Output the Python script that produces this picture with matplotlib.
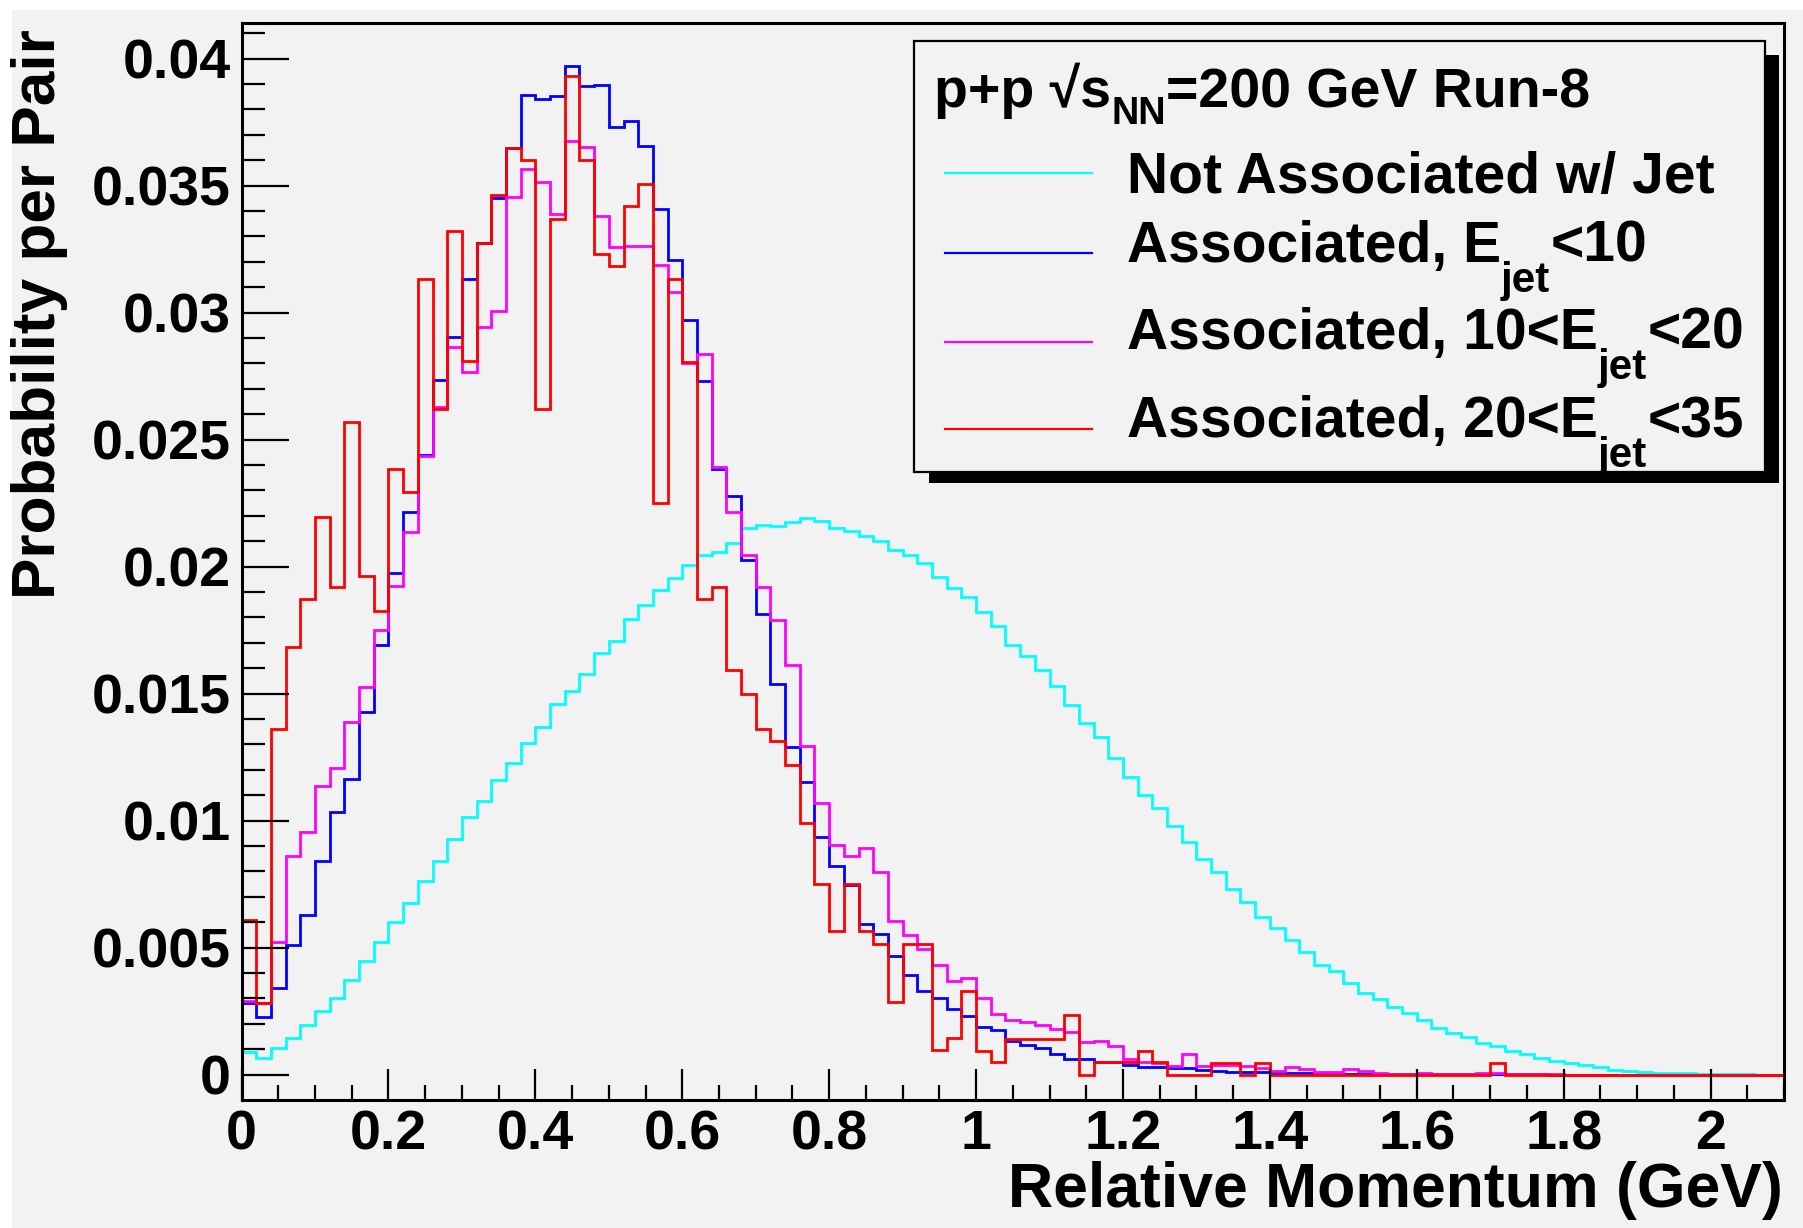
import numpy as np
import matplotlib
matplotlib.use("Agg")
import matplotlib.pyplot as plt
from matplotlib.ticker import MultipleLocator, FuncFormatter
from matplotlib.patches import Rectangle
from matplotlib.lines import Line2D

# ---------------- data (probability per pair, in units of 1e-3) ----------------
bin_width = 0.02
n_bins = 105  # 0 .. 2.1 GeV

not_assoc = [0.88, 0.66, 1.04, 1.46, 1.94, 2.51, 3.01, 3.74, 4.49, 5.22,
             6.01, 6.77, 7.61, 8.39, 9.27, 10.14, 10.79, 11.58, 12.26, 13.05,
             13.68, 14.60, 15.12, 15.78, 16.60, 17.07, 17.92, 18.48, 19.08, 19.54,
             20.06, 20.47, 20.58, 20.91, 21.52, 21.65, 21.59, 21.77, 21.92, 21.80,
             21.53, 21.40, 21.22, 20.99, 20.64, 20.47, 20.14, 19.58, 19.15, 18.81,
             18.21, 17.67, 16.91, 16.47, 15.92, 15.31, 14.54, 13.86, 13.31, 12.47,
             11.72, 11.00, 10.51, 9.79, 9.16, 8.50, 7.99, 7.30, 6.80, 6.20,
             5.78, 5.29, 4.83, 4.30, 4.06, 3.60, 3.23, 2.96, 2.68, 2.41,
             2.14, 1.82, 1.63, 1.47, 1.26, 1.13, 0.93, 0.80, 0.67, 0.54,
             0.45, 0.37, 0.29, 0.18, 0.14, 0.10, 0.08, 0.05, 0.05, 0.03,
             0.02, 0.01, 0.01, 0.0, 0.0]

assoc_lt10 = [2.80, 2.27, 3.40, 5.12, 6.30, 8.42, 10.34, 11.65, 14.29, 16.92,
              19.73, 22.16, 24.41, 27.34, 29.04, 31.31, 32.74, 34.50, 36.47, 38.55,
              38.41, 38.52, 39.70, 38.92, 38.96, 37.30, 37.53, 36.54, 34.08, 32.08,
              29.72, 27.31, 23.83, 22.79, 20.25, 18.15, 15.37, 12.88, 11.52, 9.35,
              8.21, 7.47, 5.94, 5.54, 4.66, 3.91, 3.28, 3.02, 2.58, 2.30,
              1.86, 1.74, 1.34, 1.17, 1.03, 0.80, 0.60, 0.60, 0.51, 0.51,
              0.38, 0.30, 0.30, 0.25, 0.25, 0.18, 0.16, 0.10, 0.10, 0.10,
              0.06, 0.05, 0.05, 0.04, 0.04, 0.03, 0.03, 0.02, 0.02, 0.02,
              0.01, 0.01, 0.01, 0.01, 0.01, 0.01, 0.01, 0.03, 0.01, 0.0,
              0.0, 0.0, 0.0, 0.0, 0.0, 0.0, 0.0, 0.0, 0.0, 0.0,
              0.0, 0.0, 0.0, 0.0, 0.0]

assoc_10_20 = [2.90, 2.80, 5.22, 8.59, 9.55, 11.35, 12.07, 13.87, 15.27, 17.51,
               19.25, 21.35, 24.34, 26.27, 28.63, 27.68, 29.45, 30.08, 34.54, 35.64,
               35.15, 33.88, 36.75, 36.51, 33.80, 32.58, 32.62, 32.62, 31.89, 30.81,
               28.02, 28.37, 23.92, 22.14, 20.46, 19.20, 17.88, 16.14, 12.94, 10.69,
               9.03, 8.61, 8.94, 7.99, 6.06, 5.50, 4.95, 4.31, 3.67, 3.80,
               3.01, 2.38, 2.15, 2.08, 1.96, 1.80, 1.66, 1.29, 1.34, 1.13,
               0.62, 0.51, 0.45, 0.32, 0.82, 0.32, 0.38, 0.38, 0.34, 0.25,
               0.15, 0.29, 0.23, 0.12, 0.12, 0.23, 0.13, 0.08, 0.03, 0.03,
               0.08, 0.03, 0.02, 0.03, 0.08, 0.05, 0.03, 0.01, 0.01, 0.01,
               0.0, 0.0, 0.0, 0.0, 0.0, 0.0, 0.0, 0.0, 0.0, 0.0,
               0.0, 0.0, 0.0, 0.0, 0.0]

assoc_20_35 = [6.09, 2.81, 13.59, 16.82, 18.72, 21.97, 19.19, 25.70, 19.63, 18.25,
               23.85, 22.94, 31.31, 26.20, 33.21, 28.10, 32.74, 34.61, 36.47, 36.02,
               26.20, 33.68, 39.33, 36.02, 32.29, 31.83, 34.19, 35.07, 22.49, 31.32,
               28.05, 18.72, 19.19, 15.92, 14.98, 13.62, 13.15, 12.18, 9.89, 7.51,
               5.65, 7.51, 5.65, 5.14, 2.85, 5.14, 5.14, 0.95, 1.44, 3.28,
               0.94, 0.49, 1.41, 1.41, 1.41, 1.41, 2.34, 0.0, 0.49, 0.49,
               0.49, 0.93, 0.49, 0.0, 0.0, 0.0, 0.47, 0.47, 0.0, 0.47,
               0.0, 0.0, 0.0, 0.0, 0.0, 0.0, 0.0, 0.0, 0.0, 0.0,
               0.0, 0.0, 0.0, 0.0, 0.0, 0.45, 0.0, 0.0, 0.0, 0.0,
               0.0, 0.0, 0.0, 0.0, 0.0, 0.0, 0.0, 0.0, 0.0, 0.0,
               0.0, 0.0, 0.0, 0.0, 0.0]

# legend texts as (text, is_subscript) pieces
series_labels = [[("Not Associated w/ Jet", False)],
                 [("Associated, E", False), ("jet", True), ("<10", False)],
                 [("Associated, 10<E", False), ("jet", True), ("<20", False)],
                 [("Associated, 20<E", False), ("jet", True), ("<35", False)]]
header = [("p+p √s", False), ("NN", True), ("=200 GeV Run-8", False)]
x_title = "Relative Momentum (GeV)"
y_title = "Probability per Pair"

# ---------------- style ----------------
FONT = "Liberation Sans"
plt.rcParams["font.family"] = [FONT, "DejaVu Sans"]
plt.rcParams["font.weight"] = "bold"

W, H = 1803, 1228
BG = "#f2f2f2"
colors = [(0, 1, 1), (0, 0, 1), (1, 0, 1), (1, 0, 0)]


def fx(px):
    return px / W


def fy(py):
    return 1 - py / H


fig = plt.figure(figsize=(W / 100, H / 100), dpi=100, facecolor="white")
fig.patches.append(Rectangle((fx(12), 0), 1 - fx(12), fy(10), transform=fig.transFigure,
                             facecolor=BG, edgecolor="none", zorder=-10))

L, R, T, B = 241.6, 1784, 23, 1099.5
ax = fig.add_axes([fx(L), fy(B), fx(R - L), (B - T) / H])
ax.set_facecolor(BG)

edges = np.arange(n_bins + 1) * bin_width
all_series = [not_assoc, assoc_lt10, assoc_10_20, assoc_20_35]
for vals, c in zip(all_series, colors):
    ax.stairs(np.array(vals) * 1e-3, edges, color=c, lw=2.0, baseline=None)

ax.set_xlim(0, 2.1)
ax.set_ylim(-0.00098, 0.0414)

for s in ax.spines.values():
    s.set_linewidth(2.2)

ax.xaxis.set_major_locator(MultipleLocator(0.2))
ax.xaxis.set_minor_locator(MultipleLocator(0.05))
ax.yaxis.set_major_locator(MultipleLocator(0.005))
ax.yaxis.set_minor_locator(MultipleLocator(0.001))
fmt = FuncFormatter(lambda v, p: "%g" % round(v, 6))
ax.xaxis.set_major_formatter(fmt)
ax.yaxis.set_major_formatter(fmt)

ax.tick_params(axis="both", which="both", direction="in", top=False, right=False,
               width=1.6, labelsize=40)
ax.tick_params(axis="x", which="major", length=22, pad=7)
ax.tick_params(axis="x", which="minor", length=11)
ax.tick_params(axis="y", which="major", length=34, pad=8)
ax.tick_params(axis="y", which="minor", length=16.5)
for lab in ax.get_xticklabels() + ax.get_yticklabels():
    lab.set_fontweight("bold")

fig.text(fx(1783), fy(1207.5), x_title, ha="right", va="baseline",
         fontsize=45, fontweight="bold")
fig.text(fx(11), fy(29), y_title, ha="left", va="top", rotation=90,
         fontsize=44.7, fontweight="bold")

# ---------------- legend (ROOT-style box with shadow) ----------------
fig.patches.append(Rectangle((fx(929), fy(483)), fx(1779 - 929), (483 - 55) / H,
                             transform=fig.transFigure, facecolor="black",
                             edgecolor="none", zorder=5))
fig.patches.append(Rectangle((fx(914), fy(471.5)), fx(1765 - 914), (471.5 - 41) / H,
                             transform=fig.transFigure, facecolor=BG,
                             edgecolor="black", linewidth=1.6, zorder=6))

renderer = fig.canvas.get_renderer()


def rich_text(x_px, base_px, parts, size, sub_scale, sub_drop):
    x = x_px
    for s, sub in parts:
        fs = size * sub_scale if sub else size
        yb = base_px + (sub_drop if sub else 0)
        t = fig.text(fx(x), fy(yb), s, ha="left", va="baseline", fontsize=fs,
                     fontweight="bold", zorder=7)
        x = t.get_window_extent(renderer).x1


rich_text(934, 107, header, 40, 0.68, 17)
line_y = [172.5, 253, 341.5, 429]
text_base = [193, 262, 348.5, 437]
for parts, c, ly, tb in zip(series_labels, colors, line_y, text_base):
    fig.lines.append(Line2D([fx(945), fx(1092)], [fy(ly), fy(ly)], color=c, lw=1.6,
                            transform=fig.transFigure, zorder=7))
    rich_text(1127, tb, parts, 41, 0.74, 30)

fig.savefig("out.png", dpi=100, facecolor=fig.get_facecolor())
